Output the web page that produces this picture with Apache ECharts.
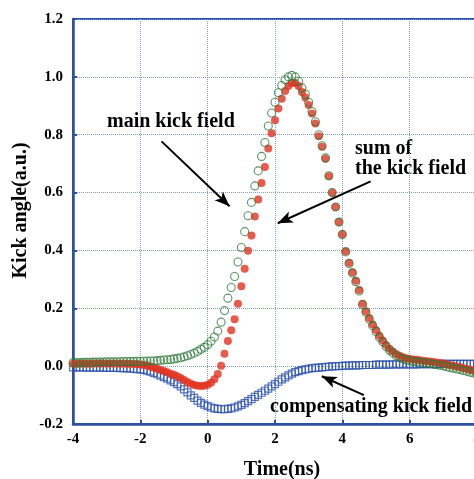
<!DOCTYPE html>
<html>
<head>
<meta charset="utf-8">
<script src="https://cdn.jsdelivr.net/npm/echarts@6/dist/echarts.min.js"></script>
<style>
  html, body { margin: 0; padding: 0; background: #fff; }
  #app { width: 474px; height: 479px; }
</style>
</head>
<body>
<div id="app"></div>
<script>
// time samples (ns)
const time = [
  -4.0, -3.9, -3.8, -3.7, -3.6, -3.5, -3.4, -3.3, -3.2, -3.1,
  -3.0, -2.9, -2.8, -2.7, -2.6, -2.5, -2.4, -2.3, -2.2, -2.1,
  -2.0, -1.9, -1.8, -1.7, -1.6, -1.5, -1.4, -1.3, -1.2, -1.1,
  -1.0, -0.9, -0.8, -0.7, -0.6, -0.5, -0.4, -0.3, -0.2, -0.1,
  0.0, 0.1, 0.2, 0.3, 0.4, 0.5, 0.6, 0.7, 0.8, 0.9,
  1.0, 1.1, 1.2, 1.3, 1.4, 1.5, 1.6, 1.7, 1.8, 1.9,
  2.0, 2.1, 2.2, 2.3, 2.4, 2.5, 2.6, 2.7, 2.8, 2.9,
  3.0, 3.1, 3.2, 3.3, 3.4, 3.5, 3.6, 3.7, 3.8, 3.9,
  4.0, 4.1, 4.2, 4.3, 4.4, 4.5, 4.6, 4.7, 4.8, 4.9,
  5.0, 5.1, 5.2, 5.3, 5.4, 5.5, 5.6, 5.7, 5.8, 5.9,
  6.0, 6.1, 6.2, 6.3, 6.4, 6.5, 6.6, 6.7, 6.8, 6.9,
  7.0, 7.1, 7.2, 7.3, 7.4, 7.5, 7.6, 7.7, 7.8, 7.9,
  8.0
];

// main kick field (green open circles)
const mainKick = [
  0.012, 0.012, 0.012, 0.013, 0.013, 0.013, 0.014, 0.014, 0.014, 0.014,
  0.015, 0.015, 0.015, 0.015, 0.015, 0.016, 0.016, 0.016, 0.016, 0.017,
  0.017, 0.017, 0.018, 0.018, 0.018, 0.019, 0.020, 0.021, 0.022, 0.023,
  0.025, 0.027, 0.029, 0.032, 0.036, 0.040, 0.045, 0.051, 0.058, 0.065,
  0.074, 0.086, 0.101, 0.121, 0.152, 0.192, 0.235, 0.272, 0.310, 0.360,
  0.410, 0.465, 0.520, 0.566, 0.623, 0.675, 0.725, 0.773, 0.830, 0.875,
  0.912, 0.945, 0.970, 0.990, 1.000, 1.005, 1.000, 0.985, 0.962, 0.940,
  0.912, 0.880, 0.845, 0.800, 0.762, 0.720, 0.658, 0.600, 0.550, 0.498,
  0.455, 0.395, 0.355, 0.322, 0.292, 0.260, 0.212, 0.186, 0.162, 0.140,
  0.120, 0.100, 0.084, 0.068, 0.055, 0.045, 0.036, 0.030, 0.025, 0.021,
  0.019, 0.017, 0.015, 0.013, 0.012, 0.010, 0.009, 0.007, 0.005, 0.003,
  0.001, -0.002, -0.005, -0.007, -0.010, -0.012, -0.015, -0.018, -0.021, -0.024,
  -0.027
];

// sum of the kick field (red filled dots)
const sumKick = [
  0.008, 0.008, 0.008, 0.009, 0.008, 0.008, 0.009, 0.009, 0.009, 0.009,
  0.009, 0.009, 0.009, 0.009, 0.008, 0.009, 0.008, 0.008, 0.007, 0.007,
  0.006, 0.004, 0.002, -0.001, -0.005, -0.009, -0.013, -0.017, -0.021, -0.026,
  -0.030, -0.035, -0.041, -0.048, -0.055, -0.061, -0.065, -0.068, -0.069, -0.068,
  -0.064, -0.057, -0.045, -0.027, 0.001, 0.043, 0.087, 0.124, 0.162, 0.216,
  0.276, 0.337, 0.399, 0.452, 0.517, 0.576, 0.633, 0.688, 0.752, 0.805,
  0.850, 0.891, 0.924, 0.951, 0.968, 0.979, 0.979, 0.968, 0.948, 0.929,
  0.903, 0.873, 0.839, 0.795, 0.758, 0.717, 0.656, 0.599, 0.550, 0.498,
  0.456, 0.397, 0.357, 0.325, 0.295, 0.263, 0.216, 0.190, 0.166, 0.144,
  0.125, 0.105, 0.089, 0.073, 0.060, 0.051, 0.042, 0.036, 0.031, 0.027,
  0.025, 0.023, 0.022, 0.020, 0.019, 0.017, 0.016, 0.014, 0.013, 0.011,
  0.009, 0.006, 0.003, 0.001, -0.002, -0.004, -0.007, -0.010, -0.013, -0.016,
  -0.019
];

// compensating kick field (blue open squares)
const compKick = [
  -0.004, -0.004, -0.004, -0.004, -0.005, -0.005, -0.005, -0.005, -0.005, -0.005,
  -0.006, -0.006, -0.006, -0.006, -0.007, -0.007, -0.008, -0.008, -0.009, -0.010,
  -0.011, -0.013, -0.016, -0.019, -0.023, -0.028, -0.033, -0.038, -0.043, -0.049,
  -0.055, -0.062, -0.070, -0.080, -0.091, -0.101, -0.110, -0.119, -0.127, -0.133,
  -0.138, -0.143, -0.146, -0.148, -0.149, -0.149, -0.148, -0.146, -0.143, -0.139,
  -0.134, -0.128, -0.121, -0.114, -0.106, -0.099, -0.092, -0.085, -0.078, -0.070,
  -0.062, -0.054, -0.046, -0.039, -0.032, -0.026, -0.021, -0.017, -0.014, -0.011,
  -0.009, -0.007, -0.006, -0.005, -0.004, -0.003, -0.002, -0.001, 0.000, 0.000,
  0.001, 0.002, 0.002, 0.003, 0.003, 0.003, 0.004, 0.004, 0.004, 0.004,
  0.005, 0.005, 0.005, 0.005, 0.005, 0.006, 0.006, 0.006, 0.006, 0.006,
  0.006, 0.006, 0.006, 0.007, 0.007, 0.007, 0.007, 0.007, 0.007, 0.008,
  0.008, 0.008, 0.008, 0.008, 0.008, 0.008, 0.008, 0.008, 0.008, 0.008,
  0.008
];

// annotation arrows: [from, to] in data coordinates
const arrows = [
  [[-1.37, 0.777], [0.65, 0.553]],
  [[4.84, 0.639], [2.08, 0.494]],
  [[4.64, -0.100], [3.39, -0.035]]
];

const FONT = 'Liberation Serif';
const AXIS_BLUE = '#2c4fa3';
const NOTE_FONT = 'bold 20px "Liberation Serif"';

const chart = echarts.init(document.getElementById('app'));

const pairs = vals => time.map((t, i) => [t, vals[i]]);

const option = {
  animation: false,
  grid: {
    left: 73, top: 19, width: 404, bottom: 55,
    outerBoundsMode: 'none',
    containLabel: false,
    show: true, borderColor: AXIS_BLUE, borderWidth: 2
  },
  xAxis: {
    type: 'value', min: -4, max: 8, interval: 2,
    name: 'Time(ns)', nameLocation: 'middle', nameGap: 36,
    nameTextStyle: { fontFamily: FONT, fontWeight: 'bold', fontSize: 20, color: '#000', padding: [0, 0, 0, 14] },
    axisLine: { onZero: false, lineStyle: { color: AXIS_BLUE, width: 2.5 } },
    axisTick: { inside: true, length: 4, lineStyle: { color: AXIS_BLUE, width: 2 } },
    axisLabel: { fontFamily: FONT, fontWeight: 'bold', fontSize: 15, color: '#000', margin: 8, showMaxLabel: true },
    splitLine: { lineStyle: { color: '#7f9ad6', type: 'dotted', width: 1 } }
  },
  yAxis: {
    type: 'value', min: -0.2, max: 1.2, interval: 0.2,
    name: 'Kick angle(a.u.)', nameLocation: 'middle', nameGap: 42,
    nameMoveOverlap: false,
    nameTextStyle: { fontFamily: FONT, fontWeight: 'bold', fontSize: 20, color: '#000', padding: [0, 0, 0, 22] },
    axisLine: { onZero: false, lineStyle: { color: AXIS_BLUE, width: 2.5 } },
    axisTick: { inside: true, length: 4, lineStyle: { color: AXIS_BLUE, width: 2 } },
    axisLabel: {
      fontFamily: FONT, fontWeight: 'bold', fontSize: 15, color: '#000', margin: 10,
      formatter: v => v.toFixed(1)
    },
    splitLine: { lineStyle: { color: '#7f9ad6', type: 'dotted', width: 1 } }
  },
  series: [
    {
      name: 'compensating kick field',
      type: 'scatter',
      symbol: 'rect',
      symbolSize: 7,
      itemStyle: { color: 'rgba(0,0,0,0)', borderColor: '#2d52ad', borderWidth: 1.2 },
      data: pairs(compKick)
    },
    {
      name: 'sum of the kick field',
      type: 'scatter',
      symbol: 'circle',
      symbolSize: 8,
      itemStyle: { color: '#e2321f' },
      data: pairs(sumKick)
    },
    {
      name: 'main kick field',
      type: 'scatter',
      symbol: 'circle',
      symbolSize: 8,
      itemStyle: { color: 'rgba(0,0,0,0)', borderColor: '#2f7a3b', borderWidth: 1.1 },
      data: pairs(mainKick),
      markLine: {
        silent: true,
        symbol: ['none', 'arrow'],
        symbolSize: [9, 15],
        label: { show: false },
        lineStyle: { color: '#000', width: 2, type: 'solid' },
        data: arrows.map(([a, b]) => [{ coord: a }, { coord: b }])
      }
    }
  ],
  graphic: [
    { type: 'text', left: 107, top: 112, style: { text: 'main kick field', font: NOTE_FONT, fill: '#000' } },
    { type: 'text', left: 355, top: 139, style: { text: 'sum of', font: NOTE_FONT, fill: '#000' } },
    { type: 'text', left: 355, top: 159, style: { text: 'the kick field', font: NOTE_FONT, fill: '#000' } },
    { type: 'text', left: 270, top: 397, style: { text: 'compensating kick field', font: NOTE_FONT, fill: '#000' } }
  ]
};

chart.setOption(option);
</script>
</body>
</html>
